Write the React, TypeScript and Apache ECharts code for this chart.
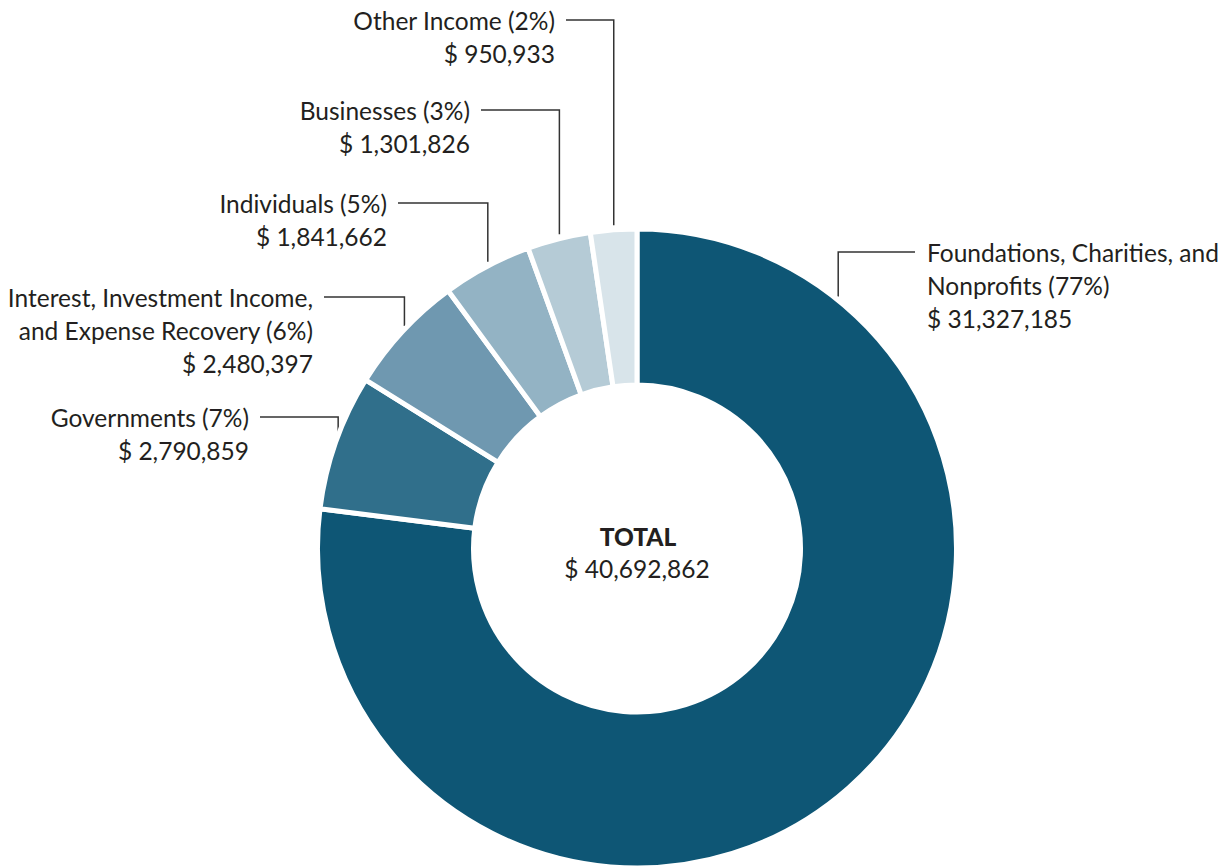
import React, { useEffect, useRef } from "react";
import * as echarts from "echarts";

// ---- data ----
const categories = [
  "Foundations, Charities, and\nNonprofits",
  "Governments",
  "Interest, Investment Income,\nand Expense Recovery",
  "Individuals",
  "Businesses",
  "Other Income",
];
const values = [31327185, 2790859, 2480397, 1841662, 1301826, 950933];
const colors = ["#0e5675", "#306f8b", "#6f98b0", "#93b3c4", "#b5cbd6", "#d8e4ea"];
const totalLabel = "TOTAL";

// ---- layout (label placement, in px) ----
const labelPos = [
  { x: 927, y: 252, side: "right" },
  { x: 249, y: 417, side: "left" },
  { x: 313, y: 297, side: "left" },
  { x: 387, y: 203, side: "left" },
  { x: 470, y: 110, side: "left" },
  { x: 555, y: 20, side: "left" },
];
// optional anchor angle override (degrees from top, clockwise)
const anchorOverride: (number | null)[] = [39.4, null, null, null, null, null];

const CX = 637;
const CY = 548.5;
const R_OUT = 317;
const R_IN = 166;
const BORDER = 5;
const FONT = "Lato, 'Noto Sans', sans-serif";
const TEXT_COLOR = "#231f20";
const FS = 24.5;
const LH = 33;

const fmt = (v: number) => v.toLocaleString("en-US");

export default function App() {
  const ref = useRef<HTMLDivElement>(null);
  useEffect(() => {
    if (!ref.current) return;
    const chart = echarts.init(ref.current, null, { renderer: "svg" });
    const total = values.reduce((a, b) => a + b, 0);

    const graphics: any[] = [];
    let cum = 0;
    values.forEach((v, i) => {
      const start = (cum / total) * 360;
      cum += v;
      const end = (cum / total) * 360;
      const mid = (start + end) / 2;
      const ang = anchorOverride[i] != null ? (anchorOverride[i] as number) : mid;
      const rad = (ang * Math.PI) / 180;
      const ax = CX + R_OUT * Math.sin(rad);
      const ay = CY - R_OUT * Math.cos(rad) - 7;
      const pct = Math.round((v / total) * 100);
      const lp = labelPos[i];
      const text = `${categories[i]} (${pct}%)\n$ ${fmt(v)}`;
      const isLeft = lp.side === "left";
      const lineStartX = isLeft ? lp.x + 11 : lp.x - 12;
      graphics.push({
        type: "polyline",
        silent: true,
        shape: { points: [[lineStartX, lp.y], [ax, lp.y], [ax, ay]] },
        style: { stroke: "#333333", lineWidth: 1.5, fill: null },
      });
      graphics.push({
        type: "text",
        silent: true,
        x: lp.x,
        y: lp.y - LH / 2,
        style: {
          text,
          fill: TEXT_COLOR,
          fontSize: FS,
          fontFamily: FONT,
          lineHeight: LH,
          align: isLeft ? "right" : "left",
          verticalAlign: "top",
        },
      });
    });

    graphics.push({
      type: "text",
      silent: true,
      x: CX + 1,
      y: CY - 12,
      style: {
        text: totalLabel,
        fill: TEXT_COLOR,
        fontSize: FS,
        fontWeight: 900,
        fontFamily: FONT,
        align: "center",
        verticalAlign: "middle",
      },
    });
    graphics.push({
      type: "text",
      silent: true,
      x: CX,
      y: CY + 20,
      style: {
        text: `$ ${fmt(total)}`,
        fill: TEXT_COLOR,
        fontSize: FS,
        fontFamily: FONT,
        align: "center",
        verticalAlign: "middle",
      },
    });

    chart.setOption({
      animation: false,
      backgroundColor: "#ffffff",
      series: [
        {
          type: "pie",
          center: [CX, CY],
          radius: [R_IN - BORDER / 2, R_OUT + BORDER / 2],
          startAngle: 90,
          clockwise: true,
          silent: true,
          label: { show: false },
          labelLine: { show: false },
          itemStyle: { borderColor: "#ffffff", borderWidth: BORDER },
          emphasis: { disabled: true },
          data: values.map((v, i) => ({
            name: categories[i],
            value: v,
            itemStyle: { color: colors[i] },
          })),
        },
      ],
      graphic: graphics,
    });
    return () => chart.dispose();
  }, []);
  return (
    <div
      ref={ref}
      style={{ position: "absolute", left: 0, top: 0, width: 1229, height: 867 }}
    />
  );
}
